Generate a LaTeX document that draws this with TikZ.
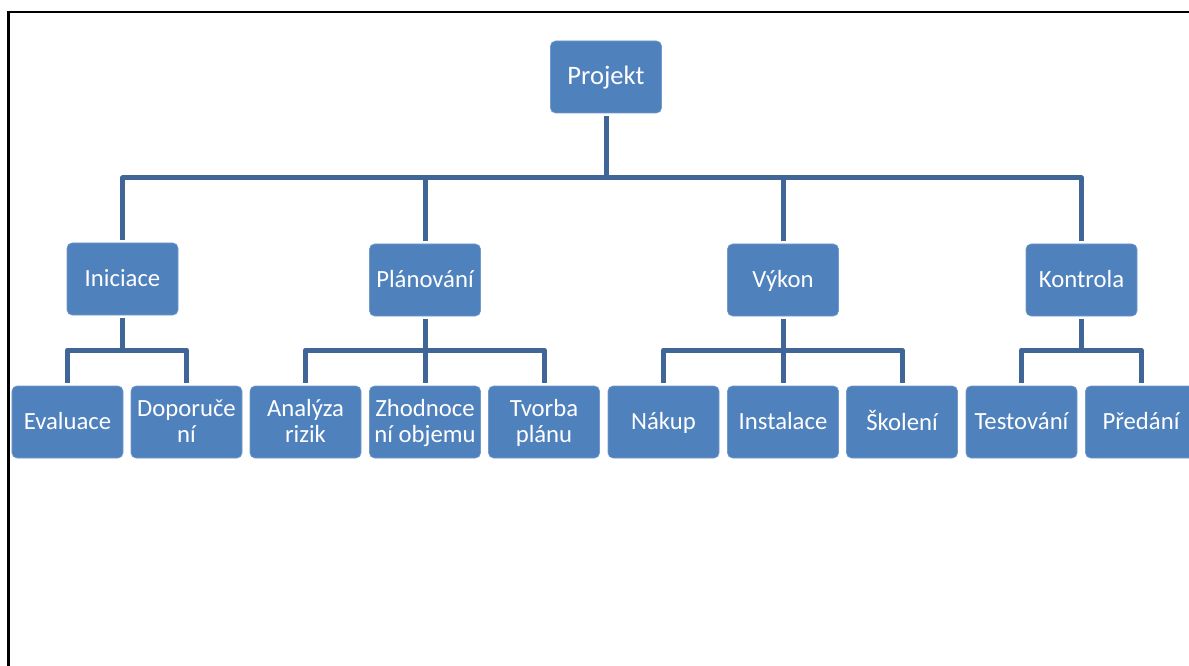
\documentclass[tikz,border=0pt]{standalone}
\usepackage{fontspec}
\setmainfont{Carlito}
\definecolor{boxfill}{RGB}{79,129,189}
\definecolor{linecol}{RGB}{64,102,152}
\newcommand\mystrut{\rule[-4bp]{0pt}{23bp}}
\begin{document}
\begin{tikzpicture}[x=1bp,y=-1bp,
  box/.style={fill=boxfill, draw=boxfill!80!white, line width=0.6bp, rounded corners=5bp,
    minimum width=111bp, minimum height=72bp, inner sep=0pt, outer sep=3bp,
    text=white, align=center, font=\fontsize{24.8}{26}\selectfont},
  conn/.style={draw=linecol, line width=5bp, line join=round}]
\useasboundingbox (0,0) rectangle (1189,666);
\clip (0,0) rectangle (1189,666);
% frame
\draw[line width=2.2bp] (8.5,670) -- (8.5,12) -- (1195,12);
% nodes
\node[box, font=\fontsize{26.7}{28}\selectfont] (proj) at (606,77) {\mystrut Projekt};
\node[box] (ini) at (122.5,279) {\mystrut Iniciace};
\node[box] (pla) at (425,280) {\mystrut Plánování};
\node[box] (vyk) at (783,280) {\mystrut Výkon};
\node[box] (kon) at (1081.5,280) {\mystrut Kontrola};
\node[box] (eva) at (67.5,422) {\mystrut Evaluace};
\node[box] (dop) at (186.5,422) {\mystrut Doporuče\\\mystrut ní};
\node[box] (ana) at (305.5,422) {\mystrut Analýza\\\mystrut rizik};
\node[box] (zho) at (425,422) {\mystrut Zhodnoce\\\mystrut ní objemu};
\node[box] (tvo) at (544,422) {\mystrut Tvorba\\\mystrut plánu};
\node[box] (nak) at (663.5,422) {\mystrut Nákup};
\node[box] (ins) at (783,422) {\mystrut Instalace};
\node[box] (sko) at (902,422) {\mystrut Školení};
\node[box] (tes) at (1021.5,422) {\mystrut Testování};
\node[box] (pre) at (1141,422) {\mystrut Předání};
% bus coordinates
\coordinate (b0) at (606,178);
\coordinate (b1) at (0,350);
% level 0 -> 1
\path[conn] (proj.south) -- (proj.south |- b0);
\path[conn] (ini.north) -- (ini.north |- b0) -- (kon.north |- b0) -- (kon.north);
\path[conn] (pla.north |- b0) -- (pla.north);
\path[conn] (vyk.north |- b0) -- (vyk.north);
% level 1 -> 2
\path[conn] (ini.south) -- (ini.south |- b1);
\path[conn] (eva.north) -- (eva.north |- b1) -- (dop.north |- b1) -- (dop.north);
\path[conn] (pla.south) -- (zho.north);
\path[conn] (ana.north) -- (ana.north |- b1) -- (tvo.north |- b1) -- (tvo.north);
\path[conn] (vyk.south) -- (ins.north);
\path[conn] (nak.north) -- (nak.north |- b1) -- (sko.north |- b1) -- (sko.north);
\path[conn] (kon.south) -- (kon.south |- b1);
\path[conn] (tes.north) -- (tes.north |- b1) -- (pre.north |- b1) -- (pre.north);
\end{tikzpicture}
\end{document}
